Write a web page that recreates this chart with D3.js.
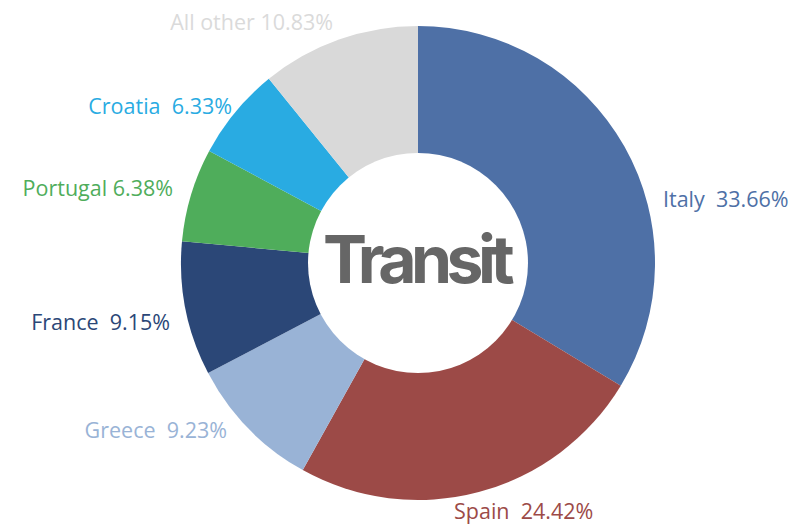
<!DOCTYPE html>
<html>
<head>
<meta charset="utf-8">
<script src="https://cdn.jsdelivr.net/npm/d3@7"></script>
<style>
  html, body { margin: 0; padding: 0; background: #fff; }
  svg { display: block; }
  .label { font-family: "Open Sans", Lato, sans-serif; font-size: 21.5px; white-space: pre; }
</style>
</head>
<body>
<svg id="chart"></svg>
<script>
// values, clockwise from 12 o'clock
const countries = ['Italy', 'Spain', 'Greece', 'France', 'Portugal', 'Croatia', 'All other'];
const shares = [33.66, 24.42, 9.23, 9.15, 6.38, 6.33, 10.83];
const colors = ['#4e70a6', '#9c4a47', '#99b3d6', '#2b4777', '#4fad5b', '#29abe2', '#d9d9d9'];
const labelColors = ['#4e70a6', '#9c4a47', '#99b3d6', '#2b4777', '#4fad5b', '#29abe2', '#dadada'];
const gaps = ['  ', '  ', '  ', '  ', ' ', '  ', ' '];

// label placement relative to the donut centre (x, baseline y, anchor)
const labelLayout = [
  [245, -56, 'start'],
  [36, 256, 'start'],
  [-191, 175, 'end'],
  [-248, 67, 'end'],
  [-245, -67, 'end'],
  [-186, -149, 'end'],
  [-85, -233, 'end']
];

const width = 812, height = 526;
const cx = 418, cy = 263;
const outerR = 237, innerR = 110;

const svg = d3.select('#chart')
  .attr('width', width)
  .attr('height', height);

const g = svg.append('g')
  .attr('transform', `translate(${cx},${cy})`);

const data = countries.map((c, i) => ({ country: c, value: shares[i], i }));

const pie = d3.pie()
  .sort(null)
  .value(d => d.value);

const arc = d3.arc()
  .innerRadius(0)
  .outerRadius(outerR);

g.selectAll('path.slice')
  .data(pie(data))
  .enter()
  .append('path')
  .attr('class', 'slice')
  .attr('d', arc)
  .attr('fill', d => colors[d.data.i]);

// white hole
g.append('circle')
  .attr('r', innerR)
  .attr('fill', '#fff');

g.append('text')
  .attr('x', -2)
  .attr('y', 20)
  .attr('text-anchor', 'middle')
  .style('font-family', 'Inter, Roboto, sans-serif')
  .style('font-weight', '700')
  .style('font-size', '66px')
  .style('letter-spacing', '-5.5px')
  .attr('fill', '#666666')
  .text('Transit');

//Labels
g.selectAll('text.label')
  .data(data)
  .enter()
  .append('text')
  .attr('class', 'label')
  .attr('x', d => labelLayout[d.i][0])
  .attr('y', d => labelLayout[d.i][1])
  .attr('text-anchor', d => labelLayout[d.i][2])
  .attr('fill', d => labelColors[d.i])
  .text(d => d.country + gaps[d.i] + d3.format('.2f')(d.value) + '%');
</script>
</body>
</html>
